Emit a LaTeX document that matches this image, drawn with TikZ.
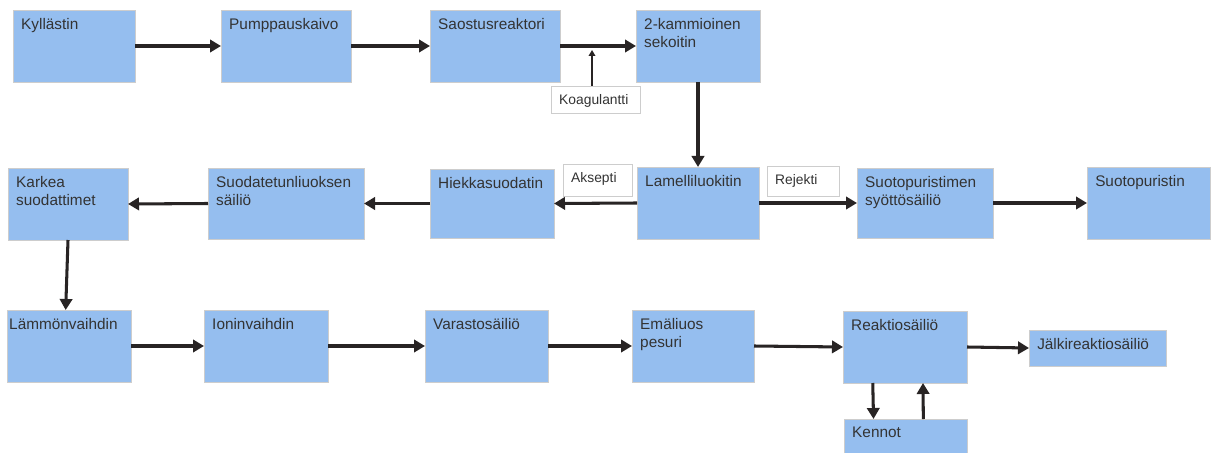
\documentclass[tikz,border=0pt]{standalone}
\usepackage{fontspec}
\setmainfont{Liberation Sans}
\usetikzlibrary{arrows.meta}
\usetikzlibrary{calc}
\usepackage{xcolor}

\definecolor{boxblue}{RGB}{149,190,239}
\definecolor{boxline}{RGB}{205,205,205}
\definecolor{arrowc}{RGB}{40,36,36}
\definecolor{textc}{RGB}{51,51,51}

\tikzset{
  blk/.style={draw=boxline, line width=0.6pt, fill=boxblue, anchor=north west, inner sep=0pt, outer sep=0pt},
  lblk/.style={blk, fill=white},
  sz/.style 2 args={minimum width=#1*0.03cm, minimum height=#2*0.03cm},
  txt/.style={anchor=north west, align=left, inner xsep=0.24cm, inner ysep=0.24cm, font=\fontsize{13.1}{15.3}\selectfont, text=textc},
  stxt/.style={txt, font=\fontsize{11.8}{14}\selectfont},
  flow/.style={draw=arrowc, line width=2.6pt, -{Triangle[length=0.33cm, width=0.37cm]}},
  feed/.style={draw=arrowc, line width=1.1pt, -{Triangle[length=0.18cm, width=0.2cm]}}
}

\begin{document}
\begin{tikzpicture}[x=0.03cm, y=-0.03cm]

\clip (0,0) rectangle (1214,453);
\fill[white] (0,0) rectangle (1214,453);

\node[blk, sz={122}{72}, label={[txt]north west:Kyllästin}] (kyl) at (13,10) {};
\node[blk, sz={130}{72}, label={[txt]north west:Pumppauskaivo}] (pmp) at (221,10) {};
\node[blk, sz={130}{72}, label={[txt]north west:Saostusreaktori}] (sao) at (430,10) {};
\node[blk, sz={124}{72}, label={[txt]north west:{2-kammioinen\\sekoitin}}] (sek) at (636,10) {};
\node[lblk, sz={89}{27}, label={[stxt]north west:Koagulantti}] (koag) at (551,86) {};

\node[blk, sz={120}{72}, label={[txt]north west:{Karkea\\suodattimet}}] (kar) at (8,168) {};
\node[blk, sz={156}{71}, label={[txt]north west:{Suodatetunliuoksen\\säiliö}}] (suo) at (208,168) {};
\node[blk, sz={124}{69}, label={[txt]north west:Hiekkasuodatin}] (hie) at (430,169) {};
\node[lblk, sz={69}{32}, label={[stxt]north west:Aksepti}] (aks) at (563,164) {};
\node[blk, sz={122}{72}, label={[txt]north west:Lamelliluokitin}] (lam) at (637,167) {};
\node[lblk, sz={72}{30}, label={[stxt]north west:Rejekti}] (rej) at (767,166) {};
\node[blk, sz={136}{70}, label={[txt]north west:{Suotopuristimen\\syöttösäiliö}}] (syo) at (857,168) {};
\node[blk, sz={123}{72}, label={[txt]north west:Suotopuristin}] (stp) at (1087,167) {};

\node[blk, sz={124}{72}, label={[txt, inner xsep=0.06cm]north west:Lämmönvaihdin}] (lmv) at (7,310) {};
\node[blk, sz={124}{72}, label={[txt]north west:Ioninvaihdin}] (ion) at (204,310) {};
\node[blk, sz={123}{72}, label={[txt]north west:Varastosäiliö}] (var) at (425,310) {};
\node[blk, sz={122}{72}, label={[txt]north west:{Emäliuos\\pesuri}}] (ema) at (632,310) {};
\node[blk, sz={124}{72}, label={[txt]north west:Reaktiosäiliö}] (rea) at (843,311) {};
\node[blk, sz={137}{36}, label={[txt]north west:Jälkireaktiosäiliö}] (jal) at (1029,330) {};
\node[blk, sz={123}{45}, label={[txt]north west:Kennot}] (ken) at (844,419) {};

\draw[flow] (kyl.east) -- (pmp.west);
\draw[flow] (pmp.east) -- (sao.west);
\draw[flow] (sao.east) -- (sek.west);
\coordinate (koagtip) at (592,50);
\draw[feed] (koag.north -| koagtip) -- (koagtip);
\draw[flow] (sek.south) -- (lam.north);

\draw[flow] (lam.west) -- (hie.east);
\draw[flow] (hie.west) -- (suo.east);
\draw[flow] (suo.west) -- (kar.east);
\draw[flow] (lam.east) -- (syo.west);
\draw[flow] (syo.east) -- (stp.west);
\draw[flow] (kar.south) -- ([xshift=-0.1cm]lmv.north);

\draw[flow] (lmv.east) -- (ion.west);
\draw[flow] (ion.east) -- (var.west);
\draw[flow] (var.east) -- (ema.west);
\draw[flow] (ema.east) -- (rea.west);
\draw[flow] (rea.east) -- (jal.west);
\draw[flow] ($(rea.south west)!0.24!(rea.south east)$) -- ($(ken.north west)!0.24!(ken.north east)$);
\draw[flow] ($(ken.north west)!0.645!(ken.north east)$) -- ($(rea.south west)!0.645!(rea.south east)$);

\end{tikzpicture}
\end{document}
